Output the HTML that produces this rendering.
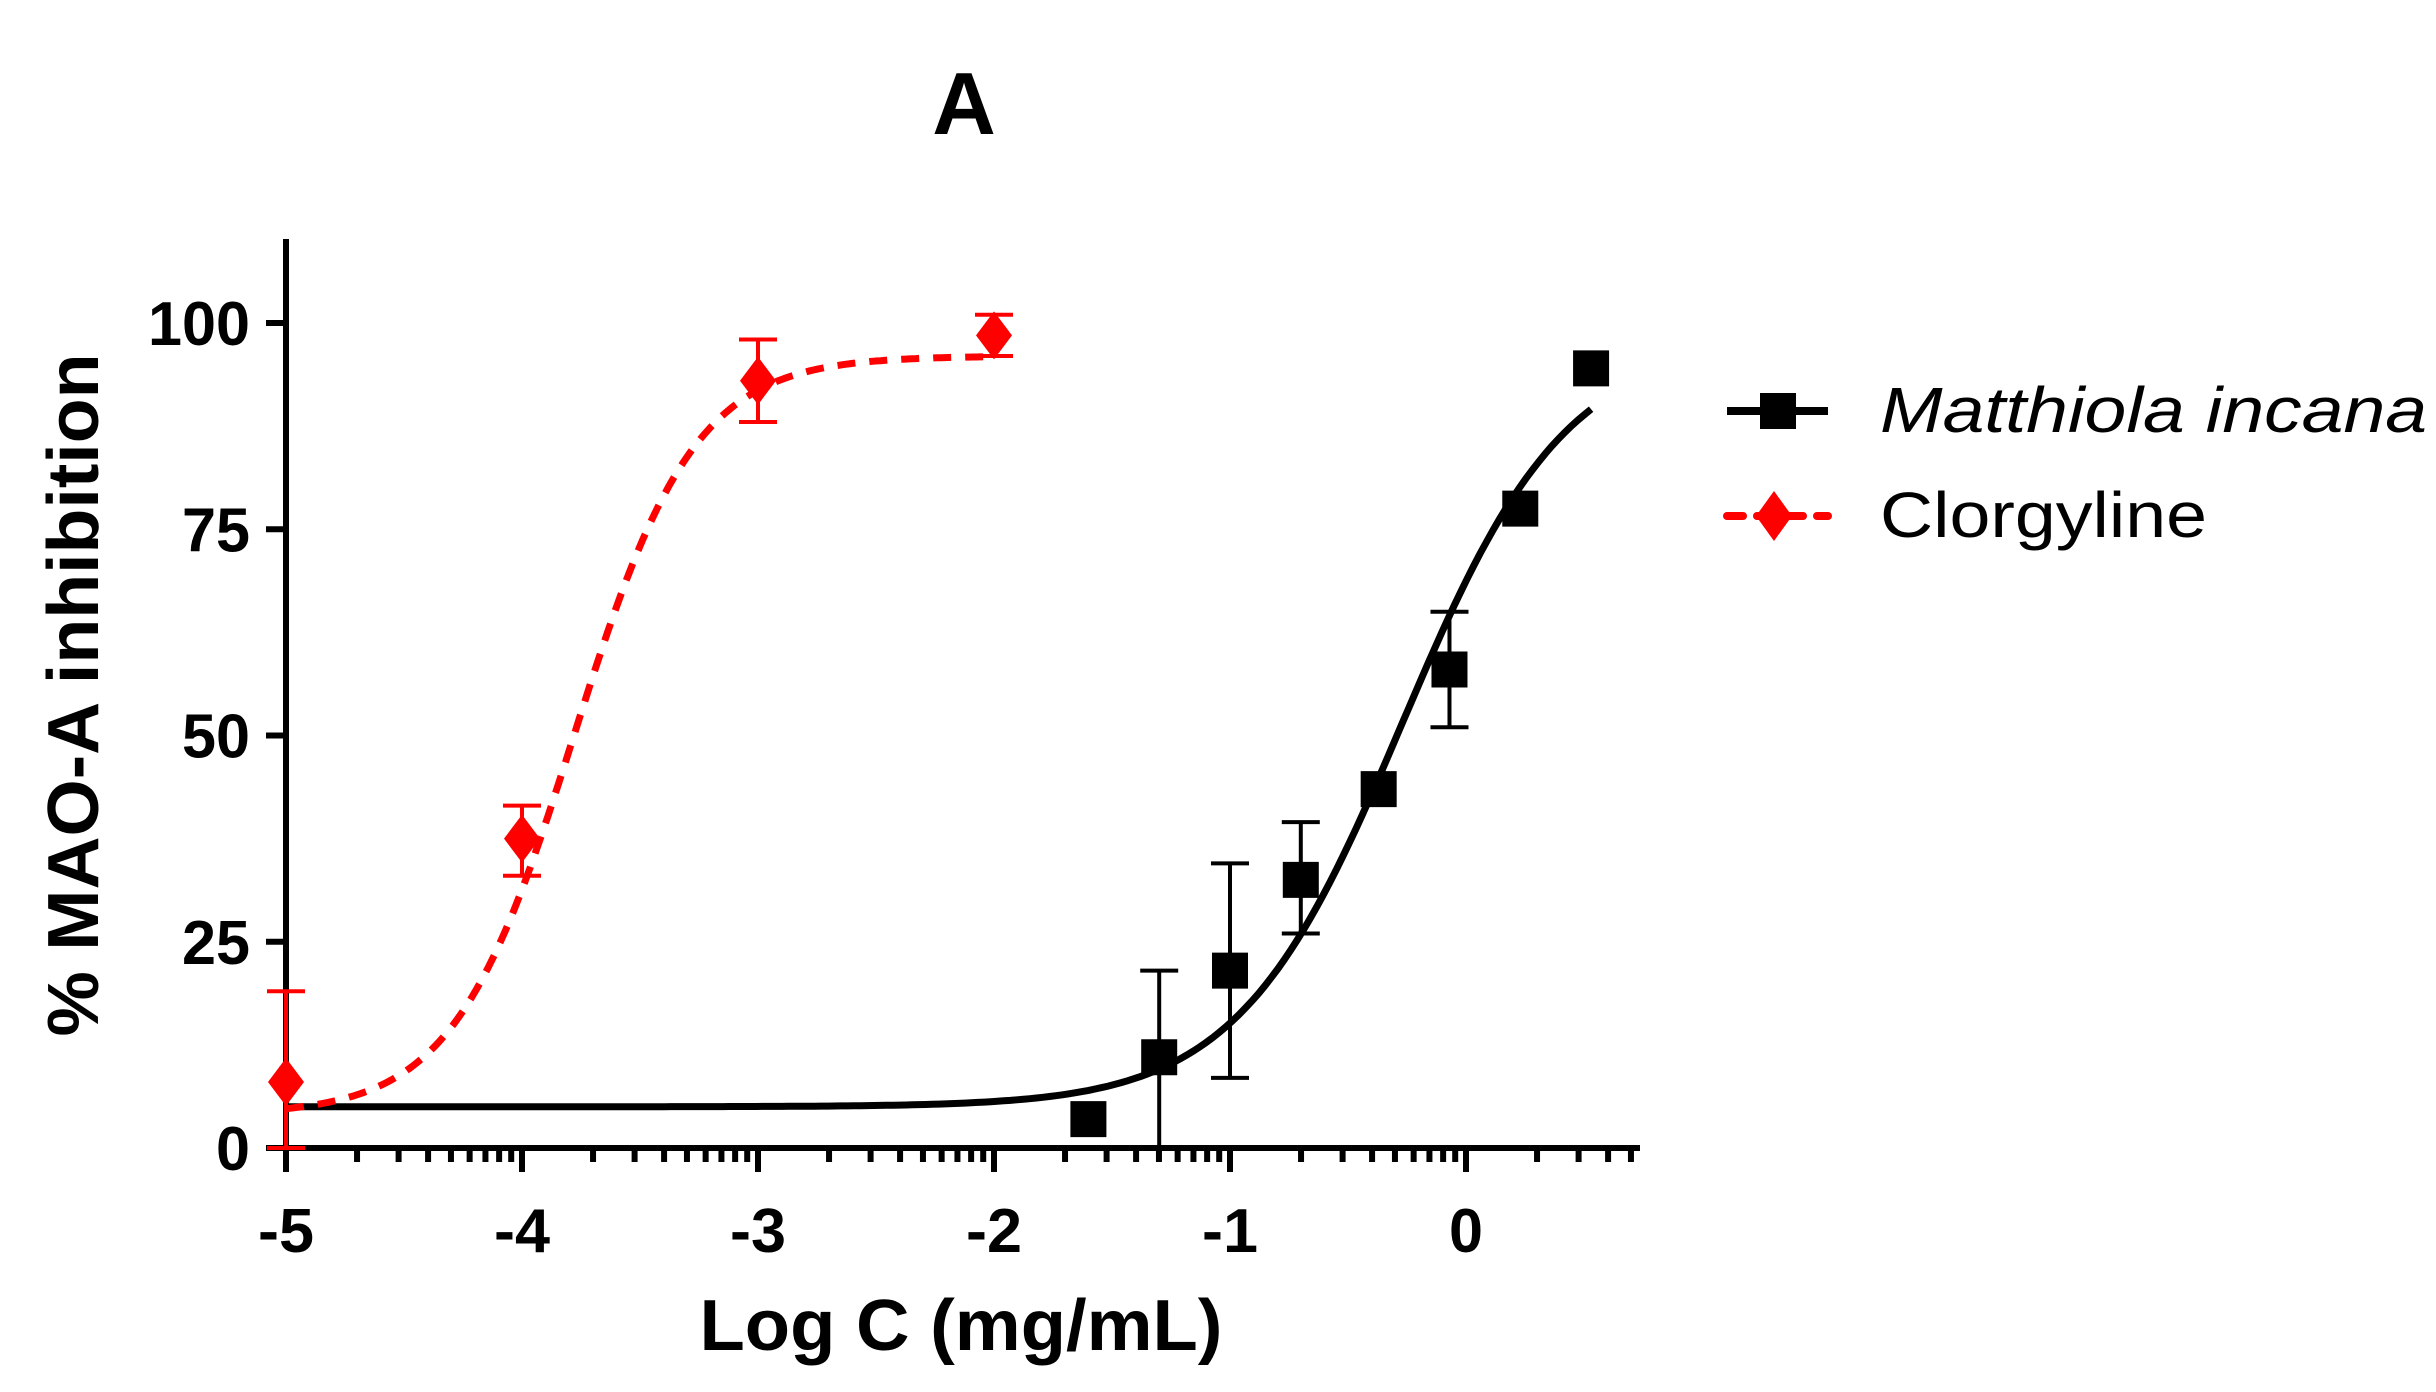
<!DOCTYPE html>
<html><head><meta charset="utf-8"><style>
html,body{margin:0;padding:0;background:#fff;}
svg{display:block;}
text{font-family:"Liberation Sans",Arial,sans-serif;}
</style></head><body>
<svg id="chart" width="2436" height="1392" viewBox="0 0 2436 1392">
<text x="964" y="134" font-size="88" font-weight="bold" text-anchor="middle">A</text>
<g id="axes"></g><g id="series"></g>
<text x="961" y="1350" font-size="72" font-weight="bold" text-anchor="middle" textLength="523" lengthAdjust="spacingAndGlyphs">Log C (mg/mL)</text>
<text transform="translate(98,695) rotate(-90)" font-size="72" font-weight="bold" text-anchor="middle" textLength="683" lengthAdjust="spacingAndGlyphs">% MAO-A inhibition</text>
<g>
<g>
<line x1="1727" y1="411" x2="1828" y2="411" stroke="#000" stroke-width="8"/>
<rect x="1760" y="393" width="36" height="36" fill="#000"/>
<text x="1880" y="432" font-size="64" font-style="italic" textLength="547" lengthAdjust="spacingAndGlyphs">Matthiola incana</text>
</g>
<g>
<line x1="1727" y1="516" x2="1828" y2="516" stroke="#f00" stroke-width="8" stroke-dasharray="16,14" stroke-linecap="round"/>
<polygon points="1774,491 1792,516 1774,541 1756,516" fill="#f00"/>
<text x="1880" y="537" font-size="64" textLength="327" lengthAdjust="spacingAndGlyphs">Clorgyline</text>
</g>
</g>
</svg>
<script>
const xTicks = [-5,-4,-3,-2,-1,0];
const yTicks = [0,25,50,75,100];
const mX = [-1.6,-1.3,-1.0,-0.7,-0.37,-0.07,0.23,0.53];
const mY = [3.5,11,21.5,32.5,43.5,58,77.5,94.5];
const mLo = [null,0,8.5,26,null,51,null,null];
const mHi = [null,21.5,34.5,39.5,null,65,null,null];
const cX = [-5,-4,-3,-2];
const cY = [8,37.5,93,98.5];
const cLo = [0,33,88,96];
const cHi = [19,41.5,98,101];
const mFit = [5,98,-0.27,1.25];   // bottom, top, logIC50, hill
const cFit = [4,96,-3.78,1.7];

const NS='http://www.w3.org/2000/svg';
const xS=v=>286+(v+5)*236;
const yS=v=>1148-v*8.25;
function mk(tag,attrs,parent){const e=document.createElementNS(NS,tag);for(const k in attrs)e.setAttribute(k,attrs[k]);parent.appendChild(e);return e;}
const axes=document.getElementById('axes'), ser=document.getElementById('series');
function tl(s){let w=0;for(const c of String(s))w+=(c==='-'?22:34);return w;}

let e=mk('line',{x1:286,y1:239,x2:286,y2:1151,stroke:'#000','stroke-width':6},axes);


e=mk('line',{x1:283,y1:1148,x2:1640,y2:1148,stroke:'#000','stroke-width':6},axes);


yTicks.forEach(t=>{
  mk('line',{x1:266,y1:yS(t),x2:286,y2:yS(t),stroke:'#000','stroke-width':6},axes);
  const tx=mk('text',{x:250,y:yS(t)+22,'font-size':62,'font-weight':'bold','text-anchor':'end',textLength:tl(t),lengthAdjust:'spacingAndGlyphs'},axes);
  tx.textContent=t;
  
  
});
xTicks.forEach(t=>{
  mk('line',{x1:xS(t),y1:1148,x2:xS(t),y2:1172,stroke:'#000','stroke-width':6},axes);
  const tx=mk('text',{x:xS(t),y:1252,'font-size':62,'font-weight':'bold','text-anchor':'middle',textLength:tl(t),lengthAdjust:'spacingAndGlyphs'},axes);
  tx.textContent=t;
  
  
});
for(let d=-5;d<=0;d++){for(let k=2;k<=9;k++){const v=d+Math.log10(k);if(xS(v)>1636)continue;
  mk('line',{x1:xS(v),y1:1148,x2:xS(v),y2:1162,stroke:'#000','stroke-width':6},axes);}}

function curve(f,x0,x1){let d='';for(let i=0;i<=200;i++){const x=x0+(x1-x0)*i/200;const y=f[0]+(f[1]-f[0])/(1+Math.pow(10,(f[2]-x)*f[3]));d+=(i?'L':'M')+xS(x).toFixed(1)+','+yS(y).toFixed(1);}return d;}
let p=mk('path',{d:curve(mFit,-5,0.53),fill:'none',stroke:'#000','stroke-width':7},ser);


p=mk('path',{d:curve(cFit,-5,-2),fill:'none',stroke:'#f00','stroke-width':7,'stroke-dasharray':'18,14'},ser);



function err(x,lo,hi,col){if(lo==null)return;
  mk('line',{x1:xS(x),y1:yS(lo),x2:xS(x),y2:yS(hi),stroke:col,'stroke-width':4},ser);
  mk('line',{x1:xS(x)-19,y1:yS(hi),x2:xS(x)+19,y2:yS(hi),stroke:col,'stroke-width':4},ser);
  mk('line',{x1:xS(x)-19,y1:yS(lo),x2:xS(x)+19,y2:yS(lo),stroke:col,'stroke-width':4},ser);}
mX.forEach((x,i)=>{err(x,mLo[i],mHi[i],'#000');
  const r=mk('rect',{x:xS(x)-18,y:yS(mY[i])-18,width:36,height:36,fill:'#000'},ser);
  
  });
cX.forEach((x,i)=>{err(x,cLo[i],cHi[i],'#f00');
  const cx=xS(x),cy=yS(cY[i]);
  const r=mk('polygon',{points:`${cx},${cy-24} ${cx+18},${cy} ${cx},${cy+24} ${cx-18},${cy}`,fill:'#f00'},ser);
  
  });
</script>
</body></html>
